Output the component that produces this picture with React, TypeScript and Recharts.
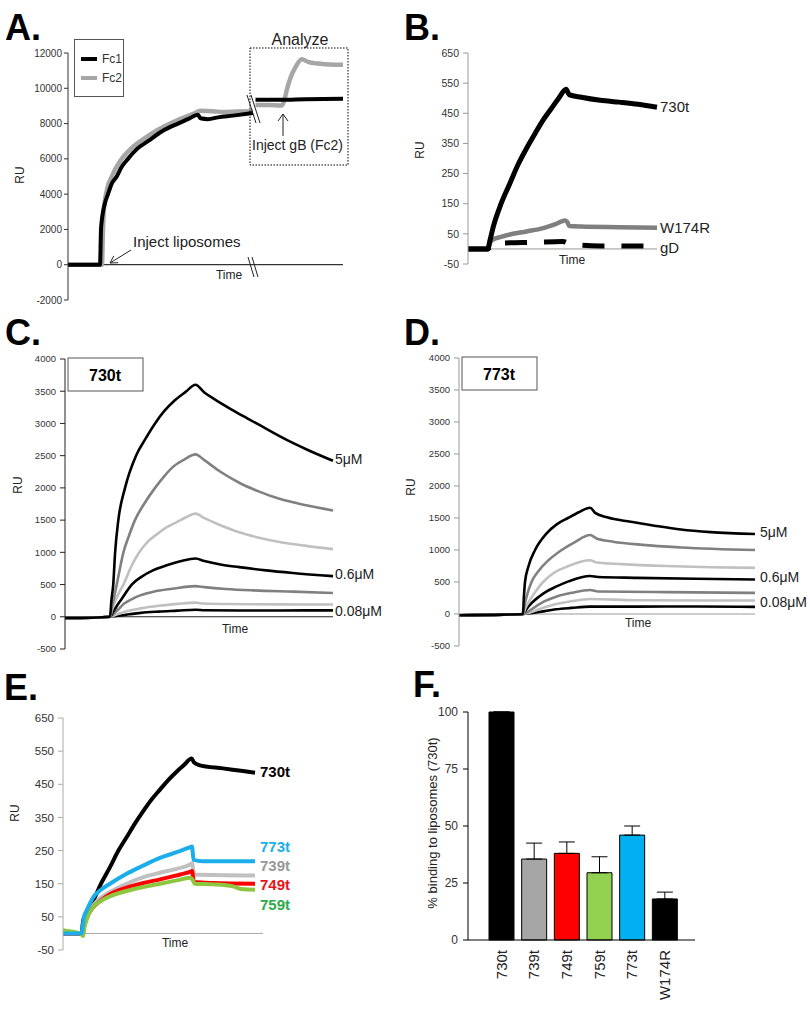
import React from "react";
import { LineChart, Line, XAxis, YAxis, ReferenceLine, Legend, BarChart, Bar, Cell, ErrorBar } from "recharts";

const FONT = "'Liberation Sans', Arial, sans-serif";

type P = [number, number];
const pts = (a: P[]) => a.map(([t, v]) => ({ t, v }));

// ---- panel A (RU vs time, break at t=74) ----
const A_TICKS = [-2000, 0, 2000, 4000, 6000, 8000, 10000, 12000];
const A_FC1_PRE: P[] = [[0, 0], [12.8, 0], [13.2, 2000], [13.5, 2500], [14, 3000], [15, 3600], [16, 4000], [17.5, 4600], [19.5, 5000], [21.5, 5550], [24, 6000], [27.5, 6550], [32, 7000], [37.5, 7550], [44, 8000], [48, 8250], [52, 8500], [53, 8300], [56, 8250], [60, 8350], [66, 8450], [74, 8600]];
const A_FC2_PRE: P[] = [[0, 0], [13.6, 0], [13.9, 1500], [14.3, 3000], [15.5, 4200], [17.5, 5000], [21, 5900], [25, 6550], [30, 7100], [36, 7650], [43, 8150], [50, 8550], [53, 8720], [58, 8700], [62, 8650], [68, 8680], [74, 8700]];
const A_FC1_POST: P[] = [[75, 9350], [85, 9350], [95, 9380], [110, 9400]];
const A_FC2_POST: P[] = [[75, 9050], [80, 9050], [85.5, 9020], [86.5, 9300], [87.5, 9900], [89, 10600], [91, 11200], [93.5, 11650], [96, 11500], [100, 11400], [105, 11350], [110, 11330]];

// ---- panel B ----
const B_TICKS = [-50, 50, 150, 250, 350, 450, 550, 650];
const B_730T: P[] = [[0, 0], [10.5, 0], [11.5, 25], [13.4, 74], [17.5, 150], [22.2, 218], [26.5, 280], [31, 334], [35.5, 383], [39.8, 428], [44, 465], [48, 500], [51.9, 530], [53.5, 512], [60, 503], [70, 493], [80, 487], [90, 480], [100, 470]];
const B_W174R: P[] = [[0, 0], [10.5, 0], [11.5, 18], [13.4, 32], [17.5, 40], [22.2, 48], [31, 58], [39.8, 69], [47, 84], [51.2, 94], [52.5, 90], [53.5, 76], [60, 74], [80, 72], [100, 70]];
const B_GD: P[] = [[0, 0], [10.5, 0], [13, 15], [20, 20], [35, 22], [50, 25], [55, 15], [70, 10], [100, 10]];

// ---- panel C (730t) ----
const CD_TICKS = [-500, 0, 500, 1000, 1500, 2000, 2500, 3000, 3500, 4000];
const C_5UM: P[] = [[0, -20], [10, -15], [16.8, 0], [17.3, 250], [18, 500], [18.7, 1000], [19.9, 1500], [22.4, 2000], [26.5, 2500], [30, 2760], [33.6, 3000], [37, 3190], [41, 3360], [45, 3490], [48.7, 3600], [52, 3480], [56, 3370], [62, 3220], [68, 3080], [75, 2920], [82, 2760], [90, 2600], [100, 2420]];
const C_G1: P[] = [[0, -20], [10, -15], [16.8, 0], [17.5, 150], [18.3, 300], [19.3, 500], [20.5, 750], [21.8, 1000], [23.8, 1250], [26.1, 1500], [29.5, 1750], [33.6, 2000], [37, 2180], [40.4, 2330], [44.5, 2440], [48.7, 2520], [52, 2430], [58, 2250], [65, 2080], [72, 1950], [80, 1830], [90, 1730], [100, 1650]];
const C_L1: P[] = [[0, -20], [10, -15], [16.8, 0], [17.5, 100], [18.5, 220], [20, 360], [21.8, 500], [24.5, 760], [27.7, 1000], [31, 1170], [34.6, 1290], [38, 1390], [41.7, 1470], [45, 1540], [48.7, 1600], [52, 1530], [58, 1420], [65, 1310], [72, 1230], [80, 1160], [90, 1100], [100, 1050]];
const C_06UM: P[] = [[0, -20], [10, -15], [16.8, 0], [18, 80], [19.5, 180], [21.5, 300], [24.9, 500], [28.5, 620], [33, 725], [38, 800], [43, 860], [48.7, 905], [52, 865], [58, 810], [65, 770], [75, 720], [85, 680], [100, 630]];
const C_G2: P[] = [[0, -20], [10, -15], [16.8, 0], [18.5, 60], [20, 120], [22.1, 205], [25, 275], [28.3, 336], [33, 390], [40, 435], [48.7, 475], [52, 460], [60, 432], [70, 410], [85, 390], [100, 370]];
const C_L2: P[] = [[0, -20], [10, -15], [16.8, 0], [19, 30], [22, 75], [28.3, 130], [35, 170], [42, 200], [48.7, 220], [51, 205], [60, 198], [80, 193], [100, 190]];
const C_008UM: P[] = [[0, -20], [10, -15], [16.8, 0], [20, 15], [24, 38], [28.3, 60], [35, 80], [42, 95], [48.7, 110], [52, 102], [65, 97], [80, 98], [100, 100]];

// ---- panel D (773t) ----
const D_5UM: P[] = [[0, -20], [15, -10], [21.6, 0], [21.9, 250], [22.3, 500], [23.5, 750], [25.7, 1000], [29.6, 1260], [33, 1400], [36.8, 1500], [40.5, 1590], [44.3, 1660], [46, 1580], [50, 1510], [58, 1440], [66, 1380], [75, 1320], [85, 1280], [100, 1250]];
const D_G1: P[] = [[0, -20], [15, -10], [21.6, 0], [22.2, 150], [23, 300], [24.5, 500], [27, 680], [30, 830], [34.7, 1000], [39, 1120], [44.3, 1234], [46.5, 1180], [52, 1130], [62, 1080], [75, 1040], [100, 1000]];
const D_L1: P[] = [[0, -20], [15, -10], [21.6, 0], [22.5, 100], [24, 220], [26, 360], [28.4, 500], [32, 640], [37, 750], [44.3, 840], [46.5, 805], [55, 780], [70, 750], [85, 730], [100, 720]];
const D_06UM: P[] = [[0, -20], [15, -10], [21.6, 0], [22.5, 60], [24.5, 170], [27, 270], [29.5, 350], [32.8, 427], [37, 510], [44.3, 594], [47, 578], [60, 565], [80, 550], [100, 540]];
const D_G2: P[] = [[0, -20], [15, -10], [21.6, 0], [23, 30], [26, 120], [29, 200], [32.8, 271], [38, 330], [44.3, 375], [47, 352], [70, 342], [100, 330]];
const D_L2: P[] = [[0, -20], [15, -10], [21.6, 0], [24, 25], [28, 90], [32.8, 156], [38, 200], [44.3, 234], [60, 215], [100, 210]];
const D_008UM: P[] = [[0, -20], [15, -10], [21.6, 0], [25, 15], [29, 45], [32.8, 73], [38, 95], [44.3, 115], [60, 115], [80, 118], [100, 112]];

// ---- panel E ----
const E_730T: P[] = [[0, 0], [9.3, 0], [10, 35], [11.5, 60], [13, 78], [15.2, 100], [19, 150], [23.5, 200], [27.5, 248], [31.8, 290], [36, 332], [40.2, 370], [44, 402], [48.5, 434], [52.5, 462], [56.8, 488], [60.5, 508], [64.3, 528], [65.5, 516], [68, 508], [80, 498], [90, 490], [96, 485]];
const E_773T: P[] = [[0, 0], [9.3, 0], [9.8, 20], [10.5, 50], [11.5, 65], [13, 85], [15.2, 110], [19, 132], [23.5, 150], [31.8, 180], [40.2, 205], [48.5, 228], [56.8, 245], [63.5, 260], [64.5, 262], [65.3, 222], [70, 218], [96, 218]];
const E_739T: P[] = [[0, 0], [9.3, 0], [10.5, 30], [12, 55], [15.2, 85], [19, 108], [23.5, 125], [31.8, 150], [40.2, 170], [48.5, 183], [56.8, 195], [63.5, 208], [64.5, 212], [65.5, 178], [96, 175]];
const E_749T: P[] = [[0, 0], [9.3, 0], [10.5, 25], [12, 50], [15.2, 80], [19, 100], [23.5, 118], [31.8, 138], [40.2, 152], [48.5, 163], [56.8, 175], [63.5, 186], [64.5, 188], [65.5, 155], [75, 152], [96, 150]];
const E_759T: P[] = [[0, 10], [5, 5], [9, 0], [10, -8], [10.8, 20], [12, 45], [15.2, 80], [19, 98], [23.5, 112], [31.8, 128], [40.2, 140], [48.5, 150], [56.8, 160], [63.5, 168], [65, 160], [65.8, 150], [75, 148], [85, 142], [90, 133], [96, 132]];

// ---- panel F ----
const F_NAMES = ["730t", "739t", "749t", "759t", "773t", "W174R"];
const F_VALUES = [100, 35.5, 38, 29.5, 46, 18];
const F_ERRORS = [0, 7, 5, 7, 4, 3];
const F_COLORS = ["#000000", "#A6A6A6", "#FF0000", "#92D050", "#00B0F0", "#000000"];
const F_ROWS = F_NAMES.map((name, i) => ({ name, v: F_VALUES[i], err: [0, F_ERRORS[i]] }));

const tickStyle = (size: number) => ({ fontSize: size, fill: "#333", fontFamily: FONT });

function Pos({ x, y, children }: { x: number; y: number; children: React.ReactNode }) {
  return <div style={{ position: "absolute", left: x, top: y }}>{children}</div>;
}

function line(data: P[], color: string, w: number, extra: Record<string, unknown> = {}) {
  return <Line type="monotone" data={pts(data)} dataKey="v" stroke={color} strokeWidth={w} dot={false} isAnimationActive={false} legendType="none" {...extra} />;
}

function LegendA({ payload }: any) {
  const items = (payload || []).filter((p: any) => p.value === "Fc1" || p.value === "Fc2").sort((a: any, b: any) => (a.value > b.value ? 1 : -1));
  return (
    <div style={{ border: "1px solid #555", width: 50, height: 58, boxSizing: "border-box", background: "#fff", fontFamily: FONT, fontSize: 12, color: "#333", paddingTop: 9 }}>
      {items.map((p: any) => (
        <div key={p.value} style={{ display: "flex", alignItems: "center", height: 19 }}>
          <span style={{ display: "inline-block", width: 16, height: 4, background: p.color, marginLeft: 6, marginRight: 5 }} />
          {p.value}
        </div>
      ))}
    </div>
  );
}

function PanelA() {
  return (
    <Pos x={0} y={0}>
      <LineChart width={360} height={320} margin={{ top: 53, right: 17, bottom: 20, left: 0 }}>
        <XAxis type="number" dataKey="t" domain={[0, 110]} hide />
        <YAxis type="number" domain={[-2000, 12000]} ticks={A_TICKS} interval={0} width={68} tickSize={4} tickMargin={2} tick={tickStyle(10)} axisLine={{ stroke: "#333" }} tickLine={{ stroke: "#333" }} />
        <ReferenceLine y={0} stroke="#333" strokeWidth={1.2} />
        <Legend layout="horizontal" align="center" verticalAlign="middle" content={<LegendA />} wrapperStyle={{ left: 74, top: 39, width: 50, height: 58 }} />
        {line(A_FC2_PRE, "#A6A6A6", 4.5, { name: "Fc2", legendType: "line" })}
        {line(A_FC2_POST, "#A6A6A6", 4.5)}
        {line(A_FC1_PRE, "#000", 4, { name: "Fc1", legendType: "line" })}
        {line(A_FC1_POST, "#000", 4)}
      </LineChart>
    </Pos>
  );
}

function PanelB() {
  return (
    <Pos x={400} y={0}>
      <LineChart width={300} height={290} margin={{ top: 53, right: 43, bottom: 26, left: 0 }}>
        <XAxis type="number" dataKey="t" domain={[0, 100]} hide />
        <YAxis type="number" domain={[-50, 650]} ticks={B_TICKS} interval={0} width={68} tickSize={5} tickMargin={4} tick={tickStyle(10.5)} axisLine={{ stroke: "#999" }} tickLine={{ stroke: "#999" }} />
        <ReferenceLine y={0} stroke="#999" />
        {line(B_GD, "#000", 5, { strokeDasharray: "22 17" })}
        {line(B_W174R, "#7F7F7F", 4.5)}
        {line(B_730T, "#000", 5)}
      </LineChart>
    </Pos>
  );
}

function KineticPanel({ x, y, w, yw, right, top, bottom, curves, axis }: any) {
  return (
    <Pos x={x} y={y}>
      <LineChart width={w} height={350} margin={{ top, right, bottom, left: 0 }}>
        <XAxis type="number" dataKey="t" domain={[0, 100]} hide />
        <YAxis type="number" domain={[-500, 4000]} ticks={CD_TICKS} interval={0} width={yw} tickSize={5} tickMargin={4} tick={tickStyle(9.5)} axisLine={{ stroke: axis }} tickLine={{ stroke: axis }} />
        <ReferenceLine y={0} stroke={axis} />
        {curves.map(([d, c]: [P[], string], i: number) => (
          <Line key={i} type="monotone" data={pts(d)} dataKey="v" stroke={c} strokeWidth={2.6} dot={false} isAnimationActive={false} />
        ))}
      </LineChart>
    </Pos>
  );
}

function PanelE() {
  return (
    <Pos x={0} y={640}>
      <LineChart width={300} height={330} margin={{ top: 78, right: 37, bottom: 20, left: 0 }}>
        <XAxis type="number" dataKey="t" domain={[0, 100]} hide />
        <YAxis type="number" domain={[-50, 650]} ticks={B_TICKS} interval={0} width={63} tickSize={5} tickMargin={4} tick={tickStyle(11.5)} axisLine={{ stroke: "#AAA" }} tickLine={{ stroke: "#AAA" }} />
        <ReferenceLine y={0} stroke="#AAA" />
        {line(E_730T, "#000", 4)}
        {line(E_739T, "#C0C0C0", 4)}
        {line(E_749T, "#FF0000", 4)}
        {line(E_759T, "#8DC63F", 4)}
        {line(E_773T, "#1BAEEA", 4)}
      </LineChart>
    </Pos>
  );
}

function FTick({ x, y, payload }: any) {
  const ty = y + 2;
  return (
    <text x={x} y={ty} transform={`rotate(-90 ${x} ${ty})`} textAnchor="end" dy="0.35em" fontSize={15} fill="#222" fontFamily={FONT}>
      {payload.value}
    </text>
  );
}

function PanelF() {
  return (
    <Pos x={400} y={640}>
      <BarChart width={320} height={373} data={F_ROWS} margin={{ top: 72, right: 25, bottom: 3, left: 0 }}>
        <XAxis dataKey="name" height={70} interval={0} tickLine={false} axisLine={{ stroke: "#000" }} padding={{ left: 17, right: 14 }} tick={<FTick />} />
        <YAxis type="number" domain={[0, 100]} ticks={[0, 25, 50, 75, 100]} interval={0} width={68} tickSize={5} tickMargin={5} tick={tickStyle(12)} axisLine={{ stroke: "#000" }} tickLine={{ stroke: "#000" }} />
        <Bar dataKey="v" barSize={25} stroke="#000" strokeWidth={1} isAnimationActive={false}>
          {F_ROWS.map((r, i) => (
            <Cell key={r.name} fill={F_COLORS[i]} />
          ))}
          <ErrorBar dataKey="err" width={8} stroke="#000" strokeWidth={1} direction="y" />
        </Bar>
      </BarChart>
    </Pos>
  );
}

function Overlay() {
  const t = { fontFamily: FONT, fill: "#222" };
  return (
    <svg width={810} height={1013} style={{ position: "absolute", left: 0, top: 0, pointerEvents: "none" }}>
      <g fontFamily={FONT} fontSize={36} fontWeight="bold" fill="#000">
        <text x={5} y={40}>A.</text>
        <text x={404} y={40}>B.</text>
        <text x={5} y={345}>C.</text>
        <text x={404} y={345}>D.</text>
        <text x={4} y={700}>E.</text>
        <text x={413} y={697}>F.</text>
      </g>
      {/* axis titles */}
      <g {...t} fontSize={12} textAnchor="middle">
        <text transform="translate(24 175) rotate(-90)">RU</text>
        <text transform="translate(424 150) rotate(-90)">RU</text>
        <text transform="translate(22 485) rotate(-90)">RU</text>
        <text transform="translate(415 487) rotate(-90)">RU</text>
        <text transform="translate(19 813) rotate(-90)">RU</text>
        <text transform="translate(437 823) rotate(-90)" fontSize={13}>% binding to liposomes (730t)</text>
        <text x={229} y={279}>Time</text>
        <text x={572} y={264}>Time</text>
        <text x={235} y={633}>Time</text>
        <text x={638} y={627}>Time</text>
        <text x={175} y={947}>Time</text>
      </g>
      {/* panel A annotations */}
      <rect x={250} y={48} width={98} height={117} fill="none" stroke="#000" strokeDasharray="1.5 1.5" />
      <text {...t} x={300} y={45} fontSize={16} textAnchor="middle">Analyze</text>
      <text {...t} x={252} y={150} fontSize={14}>Inject gB (Fc2)</text>
      <text {...t} x={133} y={247} fontSize={15}>Inject liposomes</text>
      <g stroke="#222" strokeWidth={1} fill="none">
        <line x1={283} y1={136} x2={283} y2={114} />
        <polyline points="278,121 283,114 288,121" />
        <line x1={131} y1={250} x2={110} y2={263} />
        <polyline points="118,262.7 110,263 113.8,255.9" />
        <line x1={247} y1={95} x2={256} y2={123} />
        <line x1={251} y1={95} x2={260} y2={123} />
        <line x1={248} y1={257} x2={254} y2={277} />
        <line x1={252} y1={257} x2={258} y2={277} />
      </g>
      {/* panel B labels */}
      <g {...t} fontSize={15}>
        <text x={660} y={112}>730t</text>
        <text x={660} y={233}>W174R</text>
        <text x={660} y={253}>gD</text>
      </g>
      {/* panel C / D boxes and labels */}
      <rect x={68} y={358} width={75} height={33} fill="#fff" stroke="#555" />
      <text x={105} y={381} fontFamily={FONT} fontSize={16} fontWeight="bold" textAnchor="middle">730t</text>
      <rect x={462} y={357} width={75} height={33} fill="#fff" stroke="#555" />
      <text x={499} y={380} fontFamily={FONT} fontSize={16} fontWeight="bold" textAnchor="middle">773t</text>
      <g {...t} fontSize={14}>
        <text x={335} y={464}>5μM</text>
        <text x={335} y={579}>0.6μM</text>
        <text x={335} y={616}>0.08μM</text>
        <text x={760} y={537}>5μM</text>
        <text x={760} y={582}>0.6μM</text>
        <text x={760} y={607}>0.08μM</text>
      </g>
      {/* panel E labels */}
      <g fontFamily={FONT} fontSize={15} fontWeight="bold">
        <text x={260} y={777} fill="#000">730t</text>
        <text x={260} y={852} fill="#1BAEEA">773t</text>
        <text x={260} y={871} fill="#999">739t</text>
        <text x={260} y={890} fill="#E8141B">749t</text>
        <text x={260} y={910} fill="#2BAA4A">759t</text>
      </g>
    </svg>
  );
}

export default function App() {
  return (
    <div style={{ position: "absolute", left: 0, top: 0, width: 810, height: 1013, background: "#fff", fontFamily: FONT }}>
      <PanelA />
      <PanelB />
      <KineticPanel x={0} y={310} w={360} yw={65} right={27} top={49} bottom={11} axis="#222"
        curves={[[C_008UM, "#000"], [C_L2, "#C0C0C0"], [C_G2, "#808080"], [C_06UM, "#000"], [C_L1, "#C0C0C0"], [C_G1, "#808080"], [C_5UM, "#000"]]} />
      <KineticPanel x={400} y={310} w={380} yw={59} right={25} top={48} bottom={14} axis="#999"
        curves={[[D_008UM, "#000"], [D_L2, "#C0C0C0"], [D_G2, "#808080"], [D_06UM, "#000"], [D_L1, "#C0C0C0"], [D_G1, "#808080"], [D_5UM, "#000"]]} />
      <PanelE />
      <PanelF />
      <Overlay />
    </div>
  );
}
